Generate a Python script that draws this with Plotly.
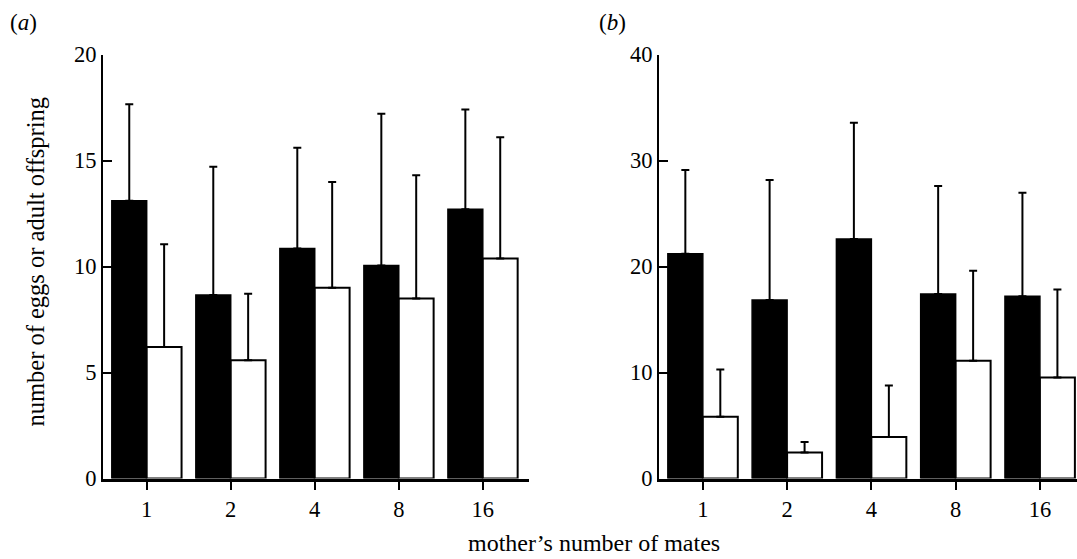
import plotly.graph_objects as go

categories = ["1", "2", "4", "8", "16"]

# panel (a)
a_eggs = [13.1, 8.65, 10.85, 10.05, 12.7]
a_eggs_err = [4.55, 6.05, 4.75, 7.15, 4.7]
a_adults = [6.2, 5.58, 9.0, 8.49, 10.38]
a_adults_err = [4.85, 3.13, 4.98, 5.81, 5.72]

# panel (b)
b_eggs = [21.2, 16.85, 22.6, 17.4, 17.2]
b_eggs_err = [7.9, 11.3, 10.95, 10.2, 9.75]
b_adults = [5.82, 2.46, 3.92, 11.1, 9.52]
b_adults_err = [4.46, 0.99, 4.85, 8.5, 8.3]

a_ticks = [0, 5, 10, 15, 20]
b_ticks = [0, 10, 20, 30, 40]

FONT = "Liberation Serif, Times New Roman, serif"
W, H = 1077, 559

fig = go.Figure()

def add_pair(eggs, eggs_err, adults, adults_err, xa, ya):
    fig.add_trace(go.Bar(
        x=categories, y=eggs, xaxis=xa, yaxis=ya,
        marker=dict(color="black", line=dict(color="black", width=1.5)),
        error_y=dict(type="data", symmetric=False, array=eggs_err,
                     arrayminus=[0] * len(eggs), color="black",
                     thickness=2, width=4),
        showlegend=False, hoverinfo="skip", offsetgroup="e"))
    fig.add_trace(go.Bar(
        x=categories, y=adults, xaxis=xa, yaxis=ya,
        marker=dict(color="white", line=dict(color="black", width=2)),
        error_y=dict(type="data", symmetric=False, array=adults_err,
                     arrayminus=[0] * len(adults), color="black",
                     thickness=2, width=4),
        showlegend=False, hoverinfo="skip", offsetgroup="w"))

add_pair(a_eggs, a_eggs_err, a_adults, a_adults_err, "x", "y")
add_pair(b_eggs, b_eggs_err, b_adults, b_adults_err, "x2", "y2")

ydom = [1 - 478.5 / H, 1 - 54.5 / H]

xcommon = dict(type="category", showgrid=False, zeroline=False,
               showline=True, linecolor="black", linewidth=2.5,
               ticks="outside", ticklen=9, tickwidth=2, tickcolor="black",
               tickfont=dict(family=FONT, size=22.5, color="black"),
               fixedrange=True, automargin=False)
ycommon = dict(showgrid=False, zeroline=False, showline=True,
               linecolor="black", linewidth=2,
               ticks="inside", ticklen=9, tickwidth=2, tickcolor="black",
               tickfont=dict(family=FONT, size=22.5, color="black"),
               domain=ydom, fixedrange=True, automargin=False)

fig.update_layout(
    template="none",
    width=W, height=H,
    margin=dict(l=0, r=0, t=0, b=0, pad=0, autoexpand=False),
    paper_bgcolor="white", plot_bgcolor="white",
    barmode="group", bargap=0.17, bargroupgap=0,
    xaxis=dict(xcommon, domain=[103 / W, 529 / W], range=[-0.52, 4.55],
               anchor="y"),
    yaxis=dict(ycommon, range=[0, 20], tickvals=a_ticks, anchor="x"),
    xaxis2=dict(xcommon, domain=[659 / W, 1.0], range=[-0.52, 4.44],
                anchor="y2"),
    yaxis2=dict(ycommon, range=[0, 40], tickvals=b_ticks, anchor="x2"),
    annotations=[
        dict(text="(<i>a</i>)", x=8 / W, y=1 - 22.5 / H, xref="paper",
             yref="paper", xanchor="left", yanchor="middle", showarrow=False,
             font=dict(family=FONT, size=23, color="black")),
        dict(text="(<i>b</i>)", x=597 / W, y=1 - 22.5 / H, xref="paper",
             yref="paper", xanchor="left", yanchor="middle", showarrow=False,
             font=dict(family=FONT, size=23, color="black")),
        dict(text="number of eggs or adult offspring", x=35 / W,
             y=1 - 261.5 / H, xref="paper", yref="paper", xanchor="center",
             yanchor="middle", textangle=-90, showarrow=False,
             font=dict(family=FONT, size=24.5, color="black")),
        dict(text="mother\u2019s number of mates", x=594 / W, y=1 - 543 / H,
             xref="paper", yref="paper", xanchor="center", yanchor="middle",
             showarrow=False,
             font=dict(family=FONT, size=24, color="black")),
    ],
)

fig.write_html(
    "out.html",
    config={"displayModeBar": False},
    post_script="document.body.style.margin='0';"
                "document.body.style.padding='0';"
                "document.body.style.overflow='hidden';",
)
